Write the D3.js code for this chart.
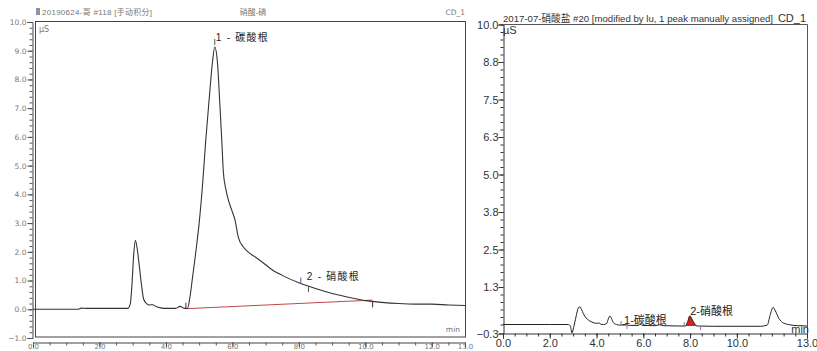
<!DOCTYPE html>
<html>
<head>
<meta charset="utf-8">
<script src="https://cdn.jsdelivr.net/npm/d3@7"></script>
<style>
  html, body { margin: 0; padding: 0; background: #fff; }
  svg { display: block; }
</style>
</head>
<body>
<svg id="chart" width="817" height="351"></svg>
<script>
// ---- Chromatogram A (20190624) ----
const leftTime = [0.0, 1.0, 1.35, 1.45, 1.6, 2.0, 2.5, 2.85, 2.93, 2.98, 3.03, 3.08, 3.13, 3.2, 3.27, 3.33, 3.42, 3.5, 3.6, 3.7, 3.85, 4.0, 4.3, 4.42, 4.48, 4.55, 4.65, 4.72, 4.8, 4.9, 5.0, 5.1, 5.2, 5.3, 5.4, 5.47, 5.55, 5.62, 5.68, 5.73, 5.8, 5.88, 5.98, 6.08, 6.18, 6.33, 6.5, 6.69, 7.0, 7.14, 7.5, 8.0, 8.5, 9.0, 9.5, 10.0, 10.5, 11.0, 11.5, 12.0, 12.5, 13.0];
const leftSignal = [0.0, 0.0, 0.0, 0.04, 0.03, 0.03, 0.03, 0.03, 0.2, 0.9, 1.9, 2.4, 2.15, 1.5, 0.8, 0.35, 0.2, 0.15, 0.16, 0.1, 0.05, 0.03, 0.03, 0.1, 0.08, 0.03, 0.03, 0.4, 1.1, 2.0, 3.0, 4.3, 5.9, 7.3, 8.6, 9.13, 8.6, 7.2, 5.9, 4.75, 4.2, 3.8, 3.45, 3.1, 2.5, 2.17, 1.97, 1.82, 1.55, 1.42, 1.18, 0.92, 0.72, 0.55, 0.42, 0.3, 0.24, 0.2, 0.18, 0.18, 0.15, 0.13];
const leftYTicks = [10, 9, 8, 7, 6, 5, 4, 3, 2, 1, 0, -1];
const leftXTicks = [0, 2, 4, 6, 8, 10, 12, 13];
const leftPeakNames = ["1 - 碳酸根", "2 - 硝酸根"];
const leftPeakTimes = [5.47, 8.06];
const leftBaselineStart = [4.6, 0.02];
const leftBaselineEnd = [10.22, 0.32];
const leftTitle = "20190624-哥 #118 [手动积分]";
const leftSample = "硝酸-碘";

// ---- Chromatogram B (2017-07) ----
const rightTime = [0.0, 2.0, 2.8, 2.88, 2.95, 3.02, 3.12, 3.22, 3.29, 3.36, 3.43, 3.55, 3.65, 3.8, 4.0, 4.1, 4.16, 4.3, 4.43, 4.5, 4.57, 4.64, 4.72, 4.85, 5.0, 5.2, 5.4, 5.8, 5.88, 5.95, 6.5, 6.7, 6.85, 7.5, 7.8, 7.9, 7.99, 8.08, 8.2, 8.3, 9.0, 10.0, 11.0, 11.3, 11.42, 11.55, 11.65, 11.8, 11.95, 12.2, 12.6, 13.0];
const rightSignal = [0.0, 0.0, 0.0, -0.05, -0.28, -0.1, 0.25, 0.55, 0.59, 0.5, 0.37, 0.22, 0.15, 0.08, 0.04, 0.05, 0.02, 0.0, 0.03, 0.18, 0.28, 0.2, 0.06, 0.0, -0.02, 0.0, -0.03, -0.03, 0.02, -0.03, -0.04, -0.01, -0.04, -0.05, -0.05, 0.1, 0.29, 0.18, 0.02, -0.05, -0.06, -0.06, -0.06, -0.02, 0.3, 0.57, 0.45, 0.2, 0.07, 0.0, -0.04, -0.05];
const rightYTicks = [10, 8.75, 7.5, 6.25, 5, 3.75, 2.5, 1.25, -0.3];
const rightXTicks = [0, 2, 4, 6, 8, 10, 13];
const rightPeakNames = ["1-碳酸根", "2-硝酸根"];
const rightPeakStart = [5.05, 7.75];
const rightPeakEnd = [5.3, 8.45];
const rightTitle = "2017-07-硝酸盐 #20 [modified by lu, 1 peak manually assigned]";

const svg = d3.select("#chart");
const cjk = "'Liberation Sans', 'Noto Sans CJK SC', sans-serif";

function zip(t, v) { return t.map((d, i) => [d, v[i]]); }
function valueAt(t, v, x) {
  const i = d3.bisectLeft(t, x);
  if (i <= 0) return v[0];
  if (i >= t.length) return v[v.length - 1];
  const f = (x - t[i - 1]) / (t[i] - t[i - 1]);
  return v[i - 1] + f * (v[i] - v[i - 1]);
}

// =================== Chart A ===================
{
  const x = d3.scaleLinear().domain([0, 13]).range([33, 465]);
  const y = d3.scaleLinear().domain([-1, 10]).range([338, 22]);
  const g = svg.append("g");
  const grey = "#777";

  // frame around the plotting area
  g.append("rect").attr("x", 35.5).attr("y", 21.5).attr("width", 430).attr("height", 315.5)
    .attr("fill", "none").attr("stroke", "#444").attr("stroke-width", 1);

  // y axis
  const yAxis = d3.axisLeft(y).tickValues(leftYTicks).tickFormat(d3.format(".1f")).tickSize(5);
  const ya = g.append("g").attr("transform", "translate(32.5,0)").call(yAxis);
  ya.select(".domain").attr("stroke", "#444");
  ya.selectAll(".tick line").attr("stroke", "#444");
  ya.selectAll("text").attr("font-family", "'DejaVu Sans', sans-serif").attr("font-size", 7.5).attr("fill", grey).attr("x", -6);
  g.append("g").attr("transform", "translate(32.5,0)")
    .call(d3.axisLeft(y).tickValues(d3.range(-1, 10.01, 0.2)).tickFormat("").tickSize(3))
    .call(a => a.select(".domain").remove())
    .selectAll("line").attr("stroke", "#555");

  // x axis
  const xa = g.append("g").attr("transform", "translate(0,342.5)")
    .call(d3.axisBottom(x).tickValues(leftXTicks).tickFormat(d3.format(".1f")).tickSize(5));
  xa.select(".domain").attr("stroke", "#444");
  xa.selectAll(".tick line").attr("stroke", "#444");
  xa.selectAll("text").attr("font-family", "'DejaVu Sans', sans-serif").attr("font-size", 7).attr("fill", grey).attr("y", 2);
  g.append("g").attr("transform", "translate(0,342.5)")
    .call(d3.axisBottom(x).tickValues(d3.range(0, 13.01, 0.5)).tickFormat("").tickSize(3))
    .call(a => a.select(".domain").remove())
    .selectAll("line").attr("stroke", "#555");

  // header
  g.append("rect").attr("x", 36).attr("y", 8).attr("width", 4).attr("height", 7).attr("fill", "#8a94a8");
  g.append("text").attr("x", 42).attr("y", 15).text(leftTitle)
    .attr("font-family", cjk).attr("font-size", 8).attr("fill", grey)
    .attr("textLength", 110).attr("lengthAdjust", "spacing");
  g.append("text").attr("x", 253).attr("y", 15).attr("text-anchor", "middle").text(leftSample)
    .attr("font-family", cjk).attr("font-size", 8).attr("fill", grey);
  g.append("text").attr("x", 465).attr("y", 15).attr("text-anchor", "end").text("CD_1")
    .attr("font-family", "'DejaVu Sans', sans-serif").attr("font-size", 7.5).attr("fill", grey);
  g.append("text").attr("x", 39).attr("y", 32).text("µS")
    .attr("font-family", "'DejaVu Sans', sans-serif").attr("font-size", 8).attr("fill", grey);
  g.append("text").attr("x", 460).attr("y", 332).attr("text-anchor", "end").text("min")
    .attr("font-family", "'DejaVu Sans', sans-serif").attr("font-size", 7.5).attr("fill", grey);

  // integration baseline
  g.append("line")
    .attr("x1", x(leftBaselineStart[0])).attr("y1", y(leftBaselineStart[1]))
    .attr("x2", x(leftBaselineEnd[0])).attr("y2", y(leftBaselineEnd[1]))
    .attr("stroke", "#c04848").attr("stroke-width", 1);

  // signal
  const line = d3.line().x(d => x(d[0])).y(d => y(d[1])).curve(d3.curveMonotoneX);
  g.append("path").datum(zip(leftTime, leftSignal)).attr("d", line)
    .attr("fill", "none").attr("stroke", "#333").attr("stroke-width", 1.1);

  // peak delimiters
  const bx0 = x(leftBaselineStart[0]), by0 = y(leftBaselineStart[1]);
  g.append("line").attr("x1", bx0).attr("x2", bx0).attr("y1", by0).attr("y2", by0 - 6).attr("stroke", "#333");
  const bx1 = x(leftBaselineEnd[0]), by1 = y(valueAt(leftTime, leftSignal, leftBaselineEnd[0]));
  g.append("line").attr("x1", bx1).attr("x2", bx1).attr("y1", by1).attr("y2", by1 + 6).attr("stroke", "#333");
  const p2 = leftPeakTimes[1];
  const p2a = x(p2), p2b = x(p2 + 0.23);
  const v2a = y(valueAt(leftTime, leftSignal, p2)), v2b = y(valueAt(leftTime, leftSignal, p2 + 0.23));
  g.append("line").attr("x1", p2a).attr("x2", p2a).attr("y1", v2a).attr("y2", v2a - 6).attr("stroke", "#7a4a9a");
  g.append("line").attr("x1", p2b).attr("x2", p2b).attr("y1", v2b).attr("y2", v2b + 6).attr("stroke", "#555");
  const p1x = x(leftPeakTimes[0]), p1y = y(valueAt(leftTime, leftSignal, leftPeakTimes[0]));
  g.append("line").attr("x1", p1x).attr("x2", p1x).attr("y1", p1y - 2).attr("y2", p1y - 8).attr("stroke", "#555");

  // peak labels
  g.append("text").attr("x", p1x + 1).attr("y", p1y - 6).text(leftPeakNames[0])
    .attr("font-family", cjk).attr("font-size", 10).attr("fill", "#222")
    .attr("textLength", 52).attr("lengthAdjust", "spacing");
  g.append("text").attr("x", p2a + 6).attr("y", v2a - 4).text(leftPeakNames[1])
    .attr("font-family", cjk).attr("font-size", 10).attr("fill", "#222")
    .attr("textLength", 52).attr("lengthAdjust", "spacing");
}

// =================== Chart B ===================
{
  const x = d3.scaleLinear().domain([0, 13]).range([503, 807]);
  const y = d3.scaleLinear().domain([-0.3, 10]).range([333.5, 24.5]);
  const g = svg.append("g");
  const ink = "#333";
  const font = "'Liberation Sans', Arial, sans-serif";

  // frame
  g.append("path").attr("d", `M503.5,24.5H807.5V333.5`).attr("fill", "none").attr("stroke", "#555");

  const ya = g.append("g").attr("transform", "translate(503.5,0)")
    .call(d3.axisLeft(y).tickValues(rightYTicks).tickFormat(d3.format(".1f")).tickSize(5));
  ya.select(".domain").attr("stroke", ink);
  ya.selectAll(".tick line").attr("stroke", ink);
  ya.selectAll("text").attr("font-family", font).attr("font-size", 11).attr("fill", ink).attr("x", -5);
  g.append("g").attr("transform", "translate(503.5,0)")
    .call(d3.axisLeft(y).tickValues(d3.range(0, 10.01, 0.25)).tickFormat("").tickSize(3))
    .call(a => a.select(".domain").remove())
    .selectAll("line").attr("stroke", ink);

  const xa = g.append("g").attr("transform", "translate(0,333.5)")
    .call(d3.axisBottom(x).tickValues(rightXTicks).tickFormat(d3.format(".1f")).tickSize(5));
  xa.select(".domain").attr("stroke", ink);
  xa.selectAll(".tick line").attr("stroke", ink);
  xa.selectAll("text").attr("font-family", font).attr("font-size", 11).attr("fill", ink).attr("y", 6);
  g.append("g").attr("transform", "translate(0,333.5)")
    .call(d3.axisBottom(x).tickValues(d3.range(0, 13.01, 0.5)).tickFormat("").tickSize(3))
    .call(a => a.select(".domain").remove())
    .selectAll("line").attr("stroke", ink);

  g.append("text").attr("x", 503).attr("y", 22).text(rightTitle)
    .attr("font-family", cjk).attr("font-size", 9.8).attr("fill", ink)
    .attr("textLength", 270).attr("lengthAdjust", "spacingAndGlyphs");
  g.append("text").attr("x", 806).attr("y", 22).attr("text-anchor", "end").text("CD_1")
    .attr("font-family", font).attr("font-size", 11).attr("fill", ink);
  g.append("text").attr("x", 503).attr("y", 34).text("µS")
    .attr("font-family", font).attr("font-size", 11).attr("fill", ink);
  g.append("text").attr("x", 809).attr("y", 333).attr("text-anchor", "end").text("min")
    .attr("font-family", font).attr("font-size", 11).attr("fill", ink);

  // integrated peak areas
  const area = d3.area().x(d => x(d[0])).y1(d => y(d[1])).y0(d => y(d[2])).curve(d3.curveMonotoneX);
  rightPeakStart.forEach((s, i) => {
    const e = rightPeakEnd[i];
    const s0 = s + 0.05;
    const e0 = i === 0 ? e - 0.05 : e - 0.15;
    const vs = valueAt(rightTime, rightSignal, s0), ve = valueAt(rightTime, rightSignal, e0);
    const ts = [s0].concat(rightTime.filter(t => t > s0 && t < e0)).concat([e0]);
    const pts = ts.map(t => {
      const base = vs + (ve - vs) * (t - s0) / (e0 - s0);
      return [t, Math.max(valueAt(rightTime, rightSignal, t), base), base - (i === 0 ? 0.04 : 0)];
    });
    g.append("path").datum(pts).attr("d", area).attr("fill", i === 0 ? "#e06a7a" : "#dd1c1c").attr("stroke", "none");
  });

  // signal
  const line = d3.line().x(d => x(d[0])).y(d => y(d[1])).curve(d3.curveMonotoneX);
  g.append("path").datum(zip(rightTime, rightSignal)).attr("d", line)
    .attr("fill", "none").attr("stroke", "#222").attr("stroke-width", 1);

  // delimiters
  rightPeakStart.forEach((s, i) => {
    [s, rightPeakEnd[i]].forEach((t, k) => {
      const px = x(t), py = y(valueAt(rightTime, rightSignal, t));
      g.append("line").attr("x1", px).attr("x2", px)
        .attr("y1", k === 0 ? py - 4 : py).attr("y2", k === 0 ? py : py + 4)
        .attr("stroke", "#9a6aa8").attr("stroke-width", 1);
    });
  });

  // labels
  g.append("text").attr("x", x(rightPeakStart[0]) + 3).attr("y", 324).text(rightPeakNames[0])
    .attr("font-family", cjk).attr("font-size", 11).attr("fill", "#222");
  g.append("text").attr("x", x(rightPeakStart[1]) + 6).attr("y", 315).text(rightPeakNames[1])
    .attr("font-family", cjk).attr("font-size", 11).attr("fill", "#222");
}
</script>
</body>
</html>
